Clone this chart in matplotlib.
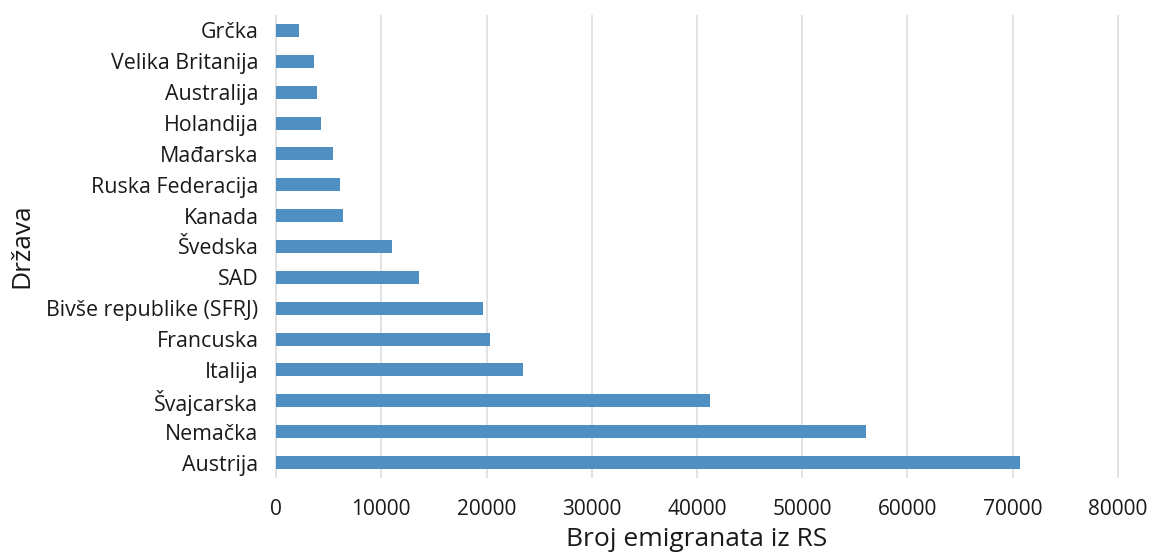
import matplotlib
matplotlib.use("Agg")
import matplotlib.pyplot as plt

# ---------------------------------------------------------------------------
# Data
# ---------------------------------------------------------------------------
COUNTRIES = [
    "Austrija", "Nemačka", "Švajcarska", "Italija", "Francuska",
    "Bivše republike (SFRJ)", "SAD", "Švedska", "Kanada", "Ruska Federacija",
    "Mađarska", "Holandija", "Australija", "Velika Britanija", "Grčka",
]
EMIGRANTS = [
    70700, 56100, 41200, 23500, 20300,
    19700, 13600, 11000, 6350, 6100,
    5400, 4300, 3900, 3600, 2200,
]
X_TICKS = [0, 10000, 20000, 30000, 40000, 50000, 60000, 70000, 80000]

BAR_COLOR  = "#4F8FC1"
GRID_COLOR = "#DADADA"
TEXT_COLOR = "#1A1A1A"

plt.rcParams["font.family"] = ["Open Sans", "DejaVu Sans"]

W, H = 1150, 553
fig = plt.figure(figsize=(W / 100, H / 100), dpi=100)

# panel placed in pixel coordinates
left_px, right_px, top_px, bottom_px = 265.5, 1128.5, 15, 478
ax = fig.add_axes([left_px / W, 1 - bottom_px / H,
                   (right_px - left_px) / W, (bottom_px - top_px) / H])

y = range(len(COUNTRIES))
ax.barh(y, EMIGRANTS, height=0.42, color=BAR_COLOR, zorder=2)

ax.set_xlim(-1000, 81000)
ax.set_ylim(-0.5, len(COUNTRIES) - 0.5)
ax.set_xticks(X_TICKS)
ax.set_xticklabels([str(t) for t in X_TICKS])
ax.set_yticks(list(y))
ax.set_yticklabels(COUNTRIES)

ax.grid(axis="x", color=GRID_COLOR, linewidth=1.1, zorder=0)
ax.grid(axis="y", visible=False)
for s in ax.spines.values():
    s.set_visible(False)
ax.tick_params(axis="both", length=0, labelsize=15.4, colors=TEXT_COLOR)
ax.tick_params(axis="x", labelsize=15, pad=15)
ax.tick_params(axis="y", pad=5)

fig.text(697 / W, 1 - 546 / H, "Broj emigranata iz RS", ha="center",
         va="baseline", fontsize=19, color=TEXT_COLOR)
fig.text(22 / W, 1 - 246 / H, "Država", ha="center", va="center",
         rotation=90, fontsize=19, color=TEXT_COLOR)

fig.savefig("out.png", dpi=100)
